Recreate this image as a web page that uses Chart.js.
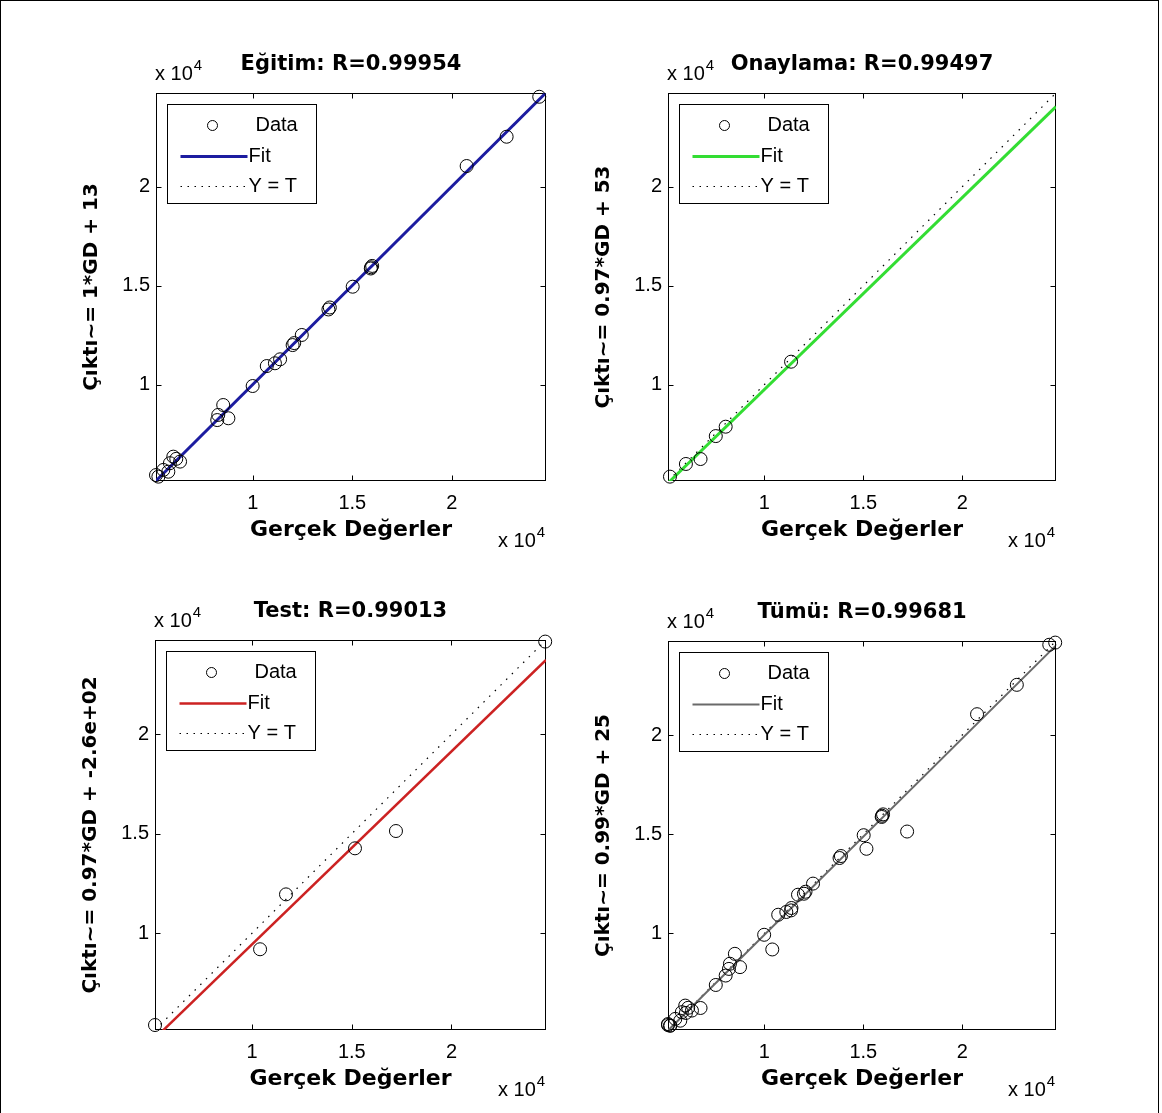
<!DOCTYPE html>
<html lang="tr">
<head>
<meta charset="UTF-8">
<title>Regresyon Grafikleri</title>
<script src="https://cdn.jsdelivr.net/npm/chart.js"></script>
<style>
    html, body { margin: 0; padding: 0; background: #fff; }
    #sayfa { position: relative; width: 1162px; height: 1113px; overflow: hidden; background: #fff; }
    #cerceve { position: absolute; left: 0; top: 0; width: 1159px; height: 1113px; border: 1px solid #000; border-bottom: none; box-sizing: border-box; }
    #sayfa canvas { position: absolute; left: 0; top: 0; }
</style>
</head>
<body>
<div id="sayfa">
    <div id="cerceve"></div>
    <canvas id="c0" width="1162" height="1113"></canvas>
    <canvas id="c1" width="1162" height="1113"></canvas>
    <canvas id="c2" width="1162" height="1113"></canvas>
    <canvas id="c3" width="1162" height="1113"></canvas>
</div>

<script>
    // Eksen sınırları ve tikler (x 10^4)
    const eksenMin = 5130;
    const eksenMax = 24740;
    const tikDegerleri = [10000, 15000, 20000];
    const tikEtiketleri = ['1', '1.5', '2'];

    const basliklar = ['Eğitim: R=0.99954', 'Onaylama: R=0.99497', 'Test: R=0.99013', 'Tümü: R=0.99681'];
    const yEtiketleri = ['Çıktı~= 1*GD + 13', 'Çıktı~= 0.97*GD + 53', 'Çıktı~= 0.97*GD + -2.6e+02', 'Çıktı~= 0.99*GD + 25'];
    const xEtiketi = 'Gerçek Değerler';
    const lejantYazilari = ['Data', 'Fit', 'Y = T'];

    // Eğitim verisi (gerçek değer, çıktı)
    const egitimGD    = [24400, 22760, 20750, 15950, 16000, 15930, 15020, 13800, 13870, 12460, 12000, 12080, 11370, 11110, 10700, 9990, 8510, 8210, 8770, 8260, 6000, 6340, 5830, 6150, 5500, 5750, 5130, 5250];
    const egitimCikti = [24550, 22530, 21050, 15930, 16000, 15870, 14950, 13800, 13900, 12510, 12000, 12100, 11280, 11080, 10940, 9930, 8970, 8210, 8300, 8470, 6360, 6110, 6030, 6250, 5690, 5600, 5430, 5350];

    // Onaylama verisi
    const onayGD    = [5230, 6035, 6775, 7545, 8045, 11350];
    const onayCikti = [5350, 5990, 6240, 7400, 7875, 11160];

    // Test verisi
    const testGD    = [5130, 10400, 11700, 15160, 17215, 24700];
    const testCikti = [5380, 9190, 11950, 14265, 15135, 24660];

    // Uyum doğrusu uçları (eksen sınırlarında)
    const fitUcX = [5130, 24740];
    const fitUcY = [[5143, 24753], [5029, 24051], [4716, 23738], [5104, 24518]];

    const tumuGD = egitimGD.concat(onayGD, testGD);
    const tumuCikti = egitimCikti.concat(onayCikti, testCikti);
    const panelGD = [egitimGD, onayGD, testGD, tumuGD];
    const panelCikti = [egitimCikti, onayCikti, testCikti, tumuCikti];

    // Yerleşim (sayfa pikseli) ve stiller
    const alanlar = [
        { l: 156, t: 93, r: 546, b: 481 },
        { l: 668, t: 93, r: 1056, b: 481 },
        { l: 155, t: 640, r: 546, b: 1030 },
        { l: 668, t: 641, r: 1056, b: 1030 }
    ];
    const fitRenkleri = ['#1c1ca0', '#33dd33', '#cc2222', '#6a6a6a'];
    const fitKalinliklari = [3, 3, 2.5, 2];

    const ince = 'Liberation Sans';
    const kalin = 'DejaVu Sans';

    const eksenEklentisi = {
        id: 'eksenCizimi',
        beforeDatasetsDraw(chart) {
            const { ctx, chartArea: a, scales } = chart;
            ctx.save();
            ctx.strokeStyle = '#000';
            ctx.lineWidth = 1;
            const L = Math.round(a.left) + 0.5, T = Math.round(a.top) + 0.5;
            const R = Math.round(a.right) - 0.5, B = Math.round(a.bottom) - 0.5;
            ctx.strokeRect(L, T, R - L, B - T);
            const uz = 5;
            ctx.beginPath();
            scales.x.ticks.forEach(t => {
                const px = Math.round(scales.x.getPixelForValue(t.value)) + 0.5;
                ctx.moveTo(px, B); ctx.lineTo(px, B - uz);
                ctx.moveTo(px, T); ctx.lineTo(px, T + uz);
            });
            scales.y.ticks.forEach(t => {
                const py = Math.round(scales.y.getPixelForValue(t.value)) + 0.5;
                ctx.moveTo(L, py); ctx.lineTo(L + uz, py);
                ctx.moveTo(R, py); ctx.lineTo(R - uz, py);
            });
            ctx.stroke();
            ctx.restore();
        },
        afterDraw(chart, args, opts) {
            const { ctx, chartArea: a } = chart;
            ctx.save();
            // lejant kutusu
            const bx = Math.round(a.left) + 11.5, by = Math.round(a.top) + 11.5;
            ctx.fillStyle = '#fff';
            ctx.strokeStyle = '#000';
            ctx.lineWidth = 1;
            ctx.fillRect(bx, by, 149, 99);
            ctx.strokeRect(bx, by, 149, 99);

            // Data
            ctx.beginPath();
            ctx.arc(bx + 45, by + 21, 5, 0, Math.PI * 2);
            ctx.stroke();
            // Fit
            ctx.beginPath();
            ctx.strokeStyle = opts.renk;
            ctx.lineWidth = opts.kalinlik;
            ctx.moveTo(bx + 13, by + 52); ctx.lineTo(bx + 80, by + 52);
            ctx.stroke();
            // Y = T
            ctx.beginPath();
            ctx.strokeStyle = '#000';
            ctx.lineWidth = 1.2;
            ctx.setLineDash([1.5, 5.5]);
            ctx.moveTo(bx + 13, by + 82); ctx.lineTo(bx + 80, by + 82);
            ctx.stroke();
            ctx.setLineDash([]);

            ctx.fillStyle = '#000';
            ctx.font = '20px "' + ince + '"';
            ctx.textBaseline = 'middle';
            ctx.textAlign = 'left';
            ctx.fillText(lejantYazilari[0], bx + 88, by + 21);
            ctx.fillText(lejantYazilari[1], bx + 81, by + 52);
            ctx.fillText(lejantYazilari[2], bx + 81, by + 82);

            // x 10^4 çarpanları
            ctx.textBaseline = 'alphabetic';
            const carpan = (x, y) => {
                ctx.font = '20px "' + ince + '"';
                ctx.fillText('x 10', x, y);
                const w = ctx.measureText('x 10').width;
                ctx.font = '15px "' + ince + '"';
                ctx.fillText('4', x + w + 1, y - 10);
            };
            carpan(a.left - 1, a.top - 13);
            carpan(a.right - 48, a.bottom + 66);
            ctx.restore();
        }
    };

    function panelCiz(i) {
        const a = alanlar[i];
        const noktalar = panelGD[i].map((v, k) => ({ x: v, y: panelCikti[i][k] }));
        const fit = fitUcX.map((v, k) => ({ x: v, y: fitUcY[i][k] }));
        const birebir = [{ x: eksenMin, y: eksenMin }, { x: eksenMax, y: eksenMax }];

        new Chart(document.getElementById('c' + i), {
            type: 'scatter',
            data: {
                datasets: [
                    { label: 'Data', data: noktalar, pointRadius: 6.5, pointBorderWidth: 1, pointBorderColor: '#000', pointBackgroundColor: 'rgba(0,0,0,0)', clip: false },
                    { label: 'Fit', data: fit, showLine: true, pointRadius: 0, borderColor: fitRenkleri[i], borderWidth: fitKalinliklari[i], clip: 0 },
                    { label: 'Y = T', data: birebir, showLine: true, pointRadius: 0, borderColor: '#000', borderWidth: 1.2, borderDash: [1.5, 6.5], clip: 0 }
                ]
            },
            options: {
                responsive: false,
                animation: false,
                events: [],
                devicePixelRatio: 1,
                layout: { padding: { left: a.l - 80, right: 1162 - a.r, top: a.t - 40, bottom: 1113 - a.b - 70 } },
                plugins: {
                    legend: { display: false },
                    tooltip: { enabled: false },
                    title: {
                        display: true, text: basliklar[i], fullSize: false, color: '#000',
                        font: { family: kalin, weight: 'bold', size: 21, lineHeight: '24px' },
                        padding: { top: 0, bottom: 16 }
                    },
                    eksenCizimi: { renk: fitRenkleri[i], kalinlik: fitKalinliklari[i] }
                },
                scales: {
                    x: {
                        type: 'linear', min: eksenMin, max: eksenMax,
                        afterFit: s => { s.height = 70; },
                        afterBuildTicks: s => { s.ticks = tikDegerleri.map(v => ({ value: v })); },
                        grid: { display: false, drawTicks: false },
                        border: { display: false },
                        ticks: { padding: 10, color: '#000', autoSkip: false, maxRotation: 0, font: { family: ince, size: 20 }, callback: (v, k) => tikEtiketleri[k] },
                        title: { display: true, text: xEtiketi, color: '#000', font: { family: kalin, weight: 'bold', size: 22, lineHeight: '24px' }, padding: { top: 0, bottom: 9 } }
                    },
                    y: {
                        type: 'linear', min: eksenMin, max: eksenMax,
                        afterFit: s => { s.width = 80; },
                        afterBuildTicks: s => { s.ticks = tikDegerleri.map(v => ({ value: v })); },
                        grid: { display: false, drawTicks: false },
                        border: { display: false },
                        ticks: { padding: 6, color: '#000', autoSkip: false, font: { family: ince, size: 20 }, callback: (v, k) => tikEtiketleri[k] },
                        title: { display: true, text: yEtiketleri[i], color: '#000', font: { family: kalin, weight: 'bold', size: 20, lineHeight: '24px' }, padding: { top: 4, bottom: 0 } }
                    }
                }
            },
            plugins: [eksenEklentisi]
        });
    }

    for (let i = 0; i < 4; i++) panelCiz(i);
</script>
</body>
</html>
